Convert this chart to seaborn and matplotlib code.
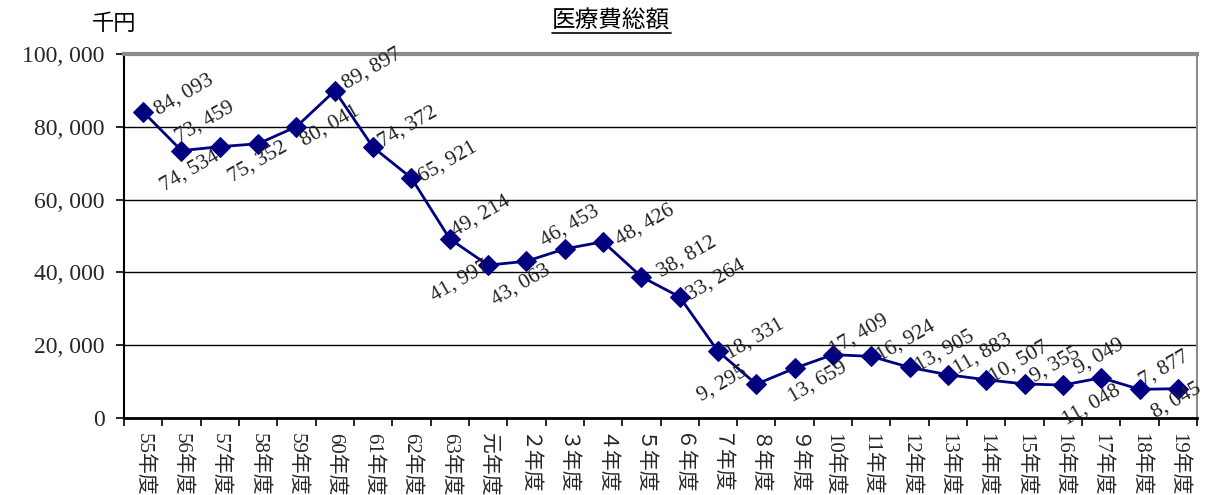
import matplotlib
matplotlib.use("Agg")
import matplotlib.pyplot as plt
import seaborn as sns
import pandas as pd
from matplotlib.ticker import FuncFormatter, FixedLocator

# ---- data ----
years = ["55年度", "56年度", "57年度", "58年度", "59年度", "60年度", "61年度",
         "62年度", "63年度", "元年度", "２年度", "３年度", "４年度", "５年度",
         "６年度", "７年度", "８年度", "９年度", "10年度", "11年度", "12年度",
         "13年度", "14年度", "15年度", "16年度", "17年度", "18年度", "19年度"]
costs = [84093, 73459, 74534, 75352, 80041, 89897, 74372, 65921, 49214, 41997,
         43063, 46453, 48426, 38812, 33264, 18331, 9295, 13659, 17409, 16924,
         13905, 11883, 10507, 9355, 9049, 11048, 7877, 8045]
y_ticks = [0, 20000, 40000, 60000, 80000, 100000]
title = "医療費総額"
unit = "千円"

# label centre offsets in pixels (dx right, dy down)
label_offsets = [(41, -17), (23, -29), (-30, 24), (0, 18), (34, -1), (37, -22),
                 (35, -20), (36, -16), (31, -23), (-28, 16), (-5, 24), (5, -23),
                 (42, -17), (46, -20), (36, -17), (37, -12), (-34, 0), (23, 14),
                 (26, -20), (35, -15), (35, -16), (35, -21), (33, -18), (31, -19),
                 (36, -28), (-10, 27), (25, -21), (-1, 12)]

sns.set_theme(style="white")
plt.rcParams["font.family"] = ["Liberation Serif", "Noto Sans CJK JP"]

df = pd.DataFrame({"year": years, "cost": costs})

fig = plt.figure(figsize=(12.06, 4.95), dpi=100)
ax = fig.add_axes([124 / 1206, 1 - 418 / 495, (1197 - 124) / 1206, (418 - 54) / 495])

navy = "#000080"
sns.lineplot(data=df, x="year", y="cost", sort=False, ax=ax, color=navy,
             linewidth=2.0, marker="D", markersize=10, markeredgecolor=navy,
             markerfacecolor=navy)

n = len(years)
ax.set_xlim(-0.5, n - 0.5)
ax.set_ylim(0, 100000)
ax.set_xlabel("")
ax.set_ylabel("")

# y axis
ax.yaxis.set_major_locator(FixedLocator(y_ticks))
ax.yaxis.set_major_formatter(FuncFormatter(lambda v, p: "0" if v == 0 else f"{int(v):,}".replace(",", ", ")))
ax.tick_params(axis="y", which="major", length=6, width=1.2, direction="out",
               labelsize=17, pad=8, left=True, color="black")
for lab in ax.get_yticklabels():
    lab.set_fontfamily(["Liberation Serif"])

# grid
for v in y_ticks[1:-1]:
    ax.axhline(v, color="black", linewidth=1.0, zorder=0.5)
ax.grid(False)

# x axis
ax.set_xticks(range(n))
ax.set_xticklabels(years, rotation=-90, fontsize=15, va="top", ha="center",
                   family=["Liberation Serif", "Noto Sans CJK JP"])
ax.tick_params(axis="x", which="major", length=0, pad=11)
ax.set_xticks([i + 0.5 for i in range(-1, n)], minor=True)
ax.tick_params(axis="x", which="minor", length=6, width=1.2, direction="out",
               bottom=True, color="black")

# spines
ax.spines["left"].set_color("black")
ax.spines["left"].set_linewidth(1.5)
ax.spines["bottom"].set_color("black")
ax.spines["bottom"].set_linewidth(2.0)
ax.spines["top"].set_color("#8c8c8c")
ax.spines["top"].set_linewidth(3.0)
ax.spines["right"].set_color("#8c8c8c")
ax.spines["right"].set_linewidth(1.5)

# data labels
for i, (v, (dx, dy)) in enumerate(zip(costs, label_offsets)):
    ax.annotate(f"{v:,}".replace(",", ", "), xy=(i, v), xytext=(dx, -dy),
                textcoords="offset pixels", ha="center", va="center",
                rotation=30, rotation_mode="anchor", fontsize=15.5,
                family=["Liberation Serif"], color="#222222",
                annotation_clip=False, clip_on=False)

# title and unit
fig.text(611 / 1206, 1 - 21 / 495, title, ha="center", va="center",
         fontsize=17, family=["Noto Sans CJK JP"], color="black")
fig.add_artist(plt.Line2D([552 / 1206, 671 / 1206], [1 - 33 / 495] * 2,
                          color="black", linewidth=1.2))
fig.text(114 / 1206, 1 - 23 / 495, unit, ha="center", va="center",
         fontsize=16, family=["Noto Sans CJK JP"], color="black")

fig.savefig("out.png", dpi=100)
